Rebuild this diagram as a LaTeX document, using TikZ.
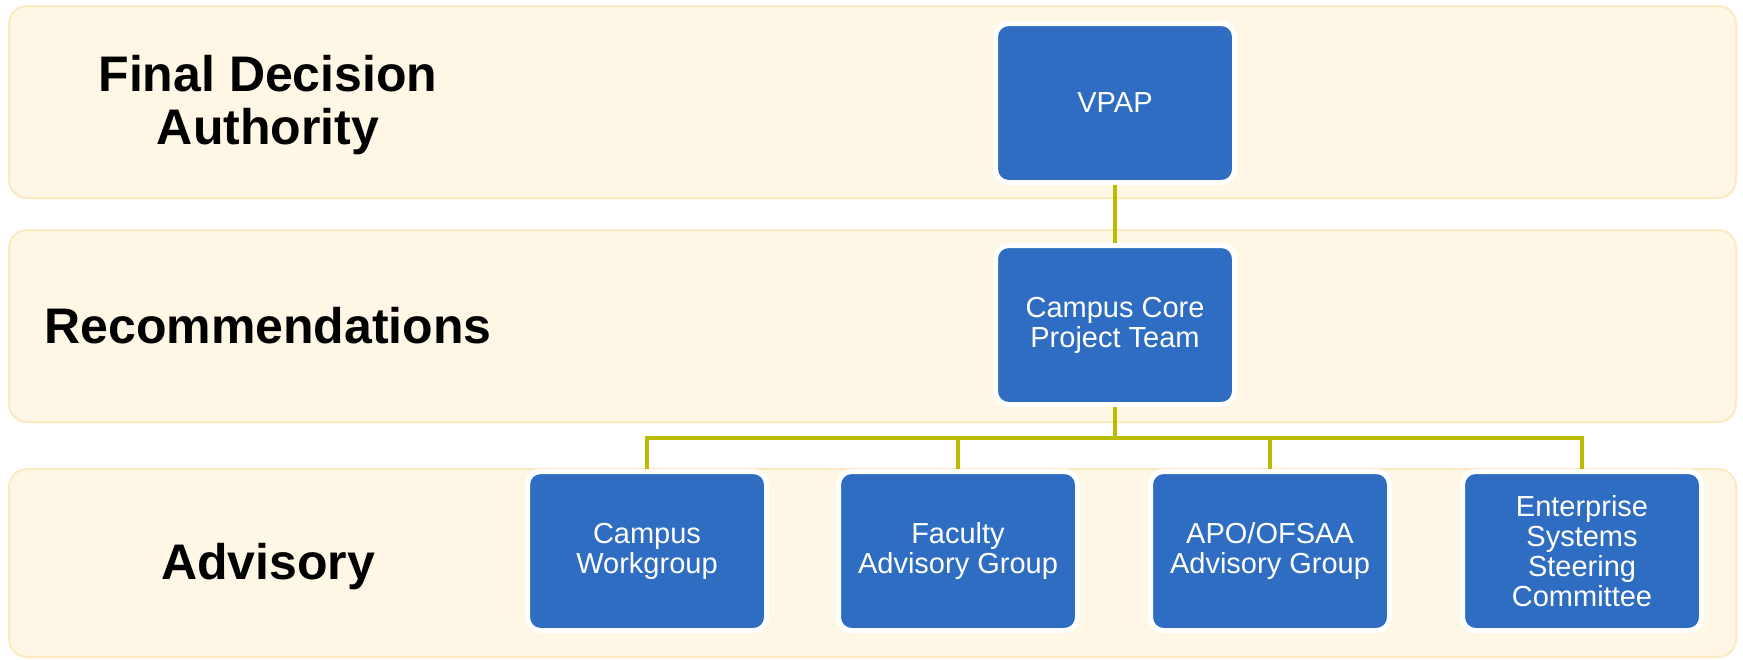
\documentclass[tikz,border=0pt]{standalone}
\usepackage{fontspec}
\setmainfont{Liberation Sans}
\usetikzlibrary{positioning}
\definecolor{bandfill}{HTML}{FFF7E5}
\definecolor{bandline}{HTML}{FDEAC2}
\definecolor{boxblue}{HTML}{2F6DC2}
\definecolor{linkolive}{HTML}{BBBB00}
\tikzstyle{band}=[fill=bandfill, draw=bandline, line width=2pt, rounded corners=18pt]
\tikzstyle{unit}=[%
	rectangle, rounded corners=13pt,
	fill=boxblue, draw=white, line width=5pt,
	minimum width=239pt, minimum height=159pt,
	text=white, align=center,
	font=\fontsize{29}{30}\selectfont
]
\tikzstyle{level}=[align=center, font=\bfseries\fontsize{50}{53}\selectfont]
\tikzstyle{link}=[draw=linkolive, line width=4pt]
\begin{document}
\begin{tikzpicture}[x=1pt, y=-1pt]
	\useasboundingbox[fill=white] (0,0) rectangle (1743,659);

	% Bands
	\draw[band] (9,6) rectangle (1736,198);
	\draw[band] (9,230) rectangle (1736,422);
	\draw[band] (9,469) rectangle (1736,657);

	% Levels
	\node[level] (final) at (268,105) {Final Decision\\Authority};
	\node[level] (recom) at (268,326) {Recommendations};
	\node[level] (advis) at (268,567) {Advisory};

	% Units
	\node[unit] (vpap) at (1115,103) {VPAP};
	\node[unit] (core) at (1115,325) {Campus Core\\Project Team};
	\foreach \x/\name/\txt in {647/workgroup/{Campus\\Workgroup},
			958/faculty/{Faculty\\Advisory Group},
			1270/apo/{APO/OFSAA\\Advisory Group},
			1582/enterprise/{Enterprise\\Systems\\Steering\\Committee}} {
		\node[unit] (\name) at (\x,551) {\txt};
	}

	% Links
	\coordinate (bar) at (1115,438);
	\draw[link] (vpap) -- (core);
	\foreach \name in {workgroup, faculty, apo, enterprise} {
		\draw[link] (core.south) -- (bar) -| (\name.north);
	}

\end{tikzpicture}
\end{document}
